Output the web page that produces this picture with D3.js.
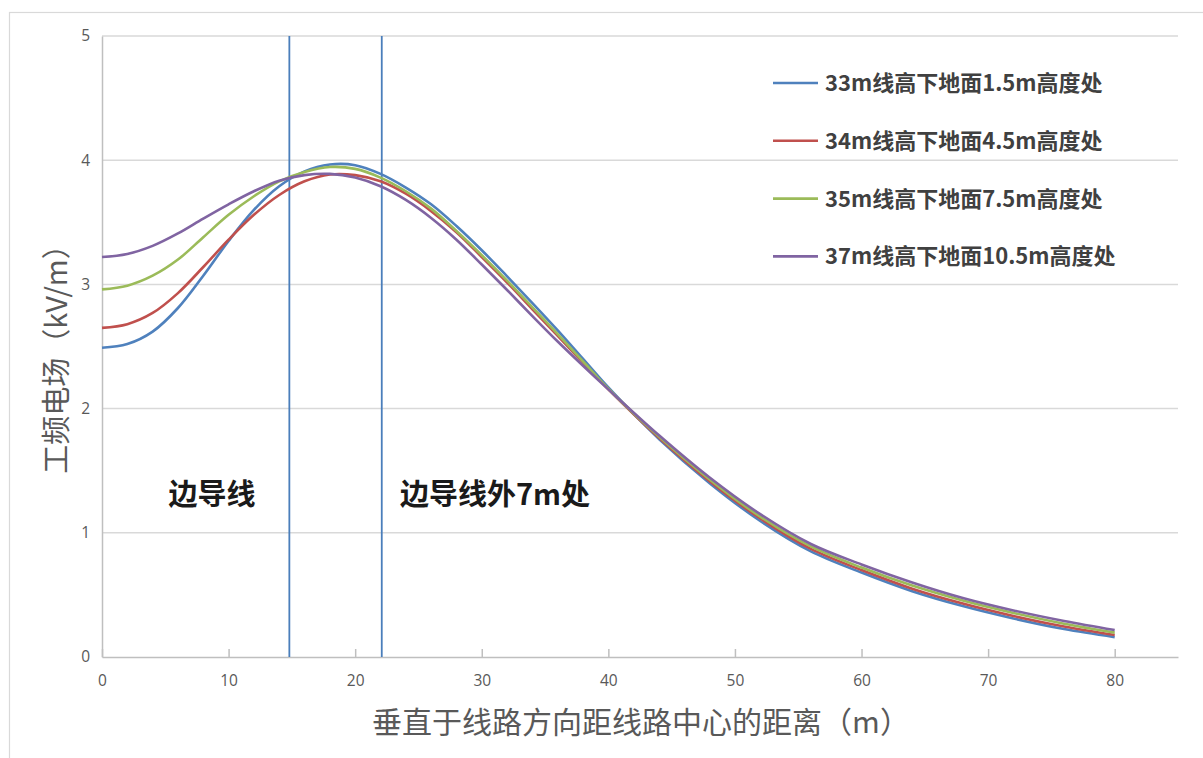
<!DOCTYPE html>
<html><head><meta charset="utf-8">
<script src="https://cdn.jsdelivr.net/npm/d3@7/dist/d3.min.js"></script>
<style>html,body{margin:0;padding:0;background:#fff;}svg{display:block;}</style>
</head><body>
<svg id="chart" width="1203" height="758"></svg>
<script>
const distances = [0,2,4,6,8,10,12,14,16,18,20,22,24,26,28,30,32,34,36,38,40,44,48,52,56,60,64,68,72,76,80];
const seriesNames = ["33m线高下地面1.5m高度处","34m线高下地面4.5m高度处","35m线高下地面7.5m高度处","37m线高下地面10.5m高度处"];
const blueValues   = [2.49,2.52,2.62,2.81,3.07,3.35,3.60,3.79,3.91,3.965,3.96,3.89,3.78,3.645,3.47,3.275,3.065,2.85,2.63,2.40,2.17,1.755,1.40,1.095,0.85,0.68,0.53,0.41,0.31,0.225,0.16];
const redValues    = [2.65,2.68,2.77,2.93,3.14,3.36,3.56,3.72,3.83,3.885,3.88,3.83,3.73,3.59,3.42,3.22,3.015,2.80,2.585,2.37,2.155,1.765,1.415,1.115,0.87,0.70,0.55,0.43,0.33,0.245,0.177];
const greenValues  = [2.96,2.99,3.07,3.20,3.38,3.56,3.71,3.83,3.905,3.945,3.93,3.86,3.75,3.61,3.43,3.235,3.03,2.815,2.60,2.38,2.16,1.775,1.43,1.13,0.89,0.72,0.575,0.455,0.355,0.268,0.196];
const purpleValues = [3.22,3.245,3.31,3.41,3.53,3.645,3.75,3.835,3.88,3.89,3.86,3.79,3.68,3.535,3.36,3.16,2.955,2.745,2.54,2.345,2.155,1.785,1.445,1.15,0.91,0.745,0.60,0.475,0.375,0.29,0.217];
const xTicks = [0,10,20,30,40,50,60,70,80];
const yTicks = [0,1,2,3,4,5];
const markerLines = [14.8, 22.1];
const markerLabels = ["边导线","边导线外7m处"];
const colors = ["#4f81bd","#c0504d","#9bbb59","#8064a2"];
const xTitle = "垂直于线路方向距线路中心的距离（m）";
const yTitle = "工频电场（kV/m）";

const svg = d3.select("#chart");
const L = 102, R = 1178, T = 36, B = 657;
const x = d3.scaleLinear().domain([0,85]).range([L,R]);
const y = d3.scaleLinear().domain([0,5]).range([B,T]);

// outer frame
svg.append("rect").attr("x",9.5).attr("y",12.5).attr("width",1210).attr("height",760)
  .attr("fill","none").attr("stroke","#d9d9d9").attr("stroke-width",1.2);

// gridlines
svg.append("g").selectAll("line").data(yTicks.filter(d=>d>0)).join("line")
  .attr("x1",L).attr("x2",R).attr("y1",d=>y(d)).attr("y2",d=>y(d))
  .attr("stroke","#d9d9d9").attr("stroke-width",1.5);

// y axis
const yAxis = svg.append("g").attr("transform",`translate(${L},0)`)
  .call(d3.axisLeft(y).tickValues(yTicks).tickSize(0).tickPadding(12).tickFormat(d3.format("d")));
yAxis.select(".domain").attr("stroke","#bfbfbf").attr("stroke-width",1.5);
yAxis.selectAll("text").attr("font-family","'Open Sans',sans-serif").attr("font-size",15.5).attr("fill","#595959");

// x axis
const xAxis = svg.append("g").attr("transform",`translate(0,${B})`)
  .call(d3.axisBottom(x).tickValues(xTicks).tickSize(-8).tickPadding(18).tickSizeOuter(0).tickFormat(d3.format("d")));
xAxis.select(".domain").attr("stroke","#bfbfbf").attr("stroke-width",1.5);
xAxis.selectAll(".tick line").attr("stroke","#bfbfbf").attr("stroke-width",1.5);
xAxis.selectAll("text").attr("font-family","'Open Sans',sans-serif").attr("font-size",15.5).attr("fill","#595959");

// marker vertical lines
svg.append("g").selectAll("line").data(markerLines).join("line")
  .attr("x1",d=>x(d)).attr("x2",d=>x(d)).attr("y1",T).attr("y2",B)
  .attr("stroke","#4a7ebb").attr("stroke-width",1.8);

// series
const allValues = [blueValues, redValues, greenValues, purpleValues];
const line = d3.line().x((d,i)=>x(distances[i])).y(d=>y(d)).curve(d3.curveCatmullRom.alpha(0.5));
svg.append("g").selectAll("path").data(allValues).join("path")
  .attr("d",d=>line(d)).attr("fill","none")
  .attr("stroke",(d,i)=>colors[i]).attr("stroke-width",2.6).attr("stroke-linejoin","round");

// marker labels
svg.append("text").attr("x",212).attr("y",505).attr("text-anchor","middle")
  .attr("font-family","'Noto Sans CJK SC',sans-serif").attr("font-size",29).attr("font-weight","bold").attr("fill","#1a1a1a")
  .text(markerLabels[0]);
svg.append("text").attr("x",495).attr("y",505).attr("text-anchor","middle")
  .attr("font-family","'Noto Sans CJK SC',sans-serif").attr("font-size",29).attr("font-weight","bold").attr("fill","#1a1a1a")
  .text(markerLabels[1]);

// legend
const lg = svg.append("g");
seriesNames.forEach((name,i)=>{
  const yy = 83 + i*57.8;
  lg.append("line").attr("x1",773).attr("x2",818).attr("y1",yy).attr("y2",yy)
    .attr("stroke",colors[i]).attr("stroke-width",2.6);
  lg.append("text").attr("x",825).attr("y",yy).attr("dy","0.36em")
    .attr("font-family","'Noto Sans CJK SC',sans-serif").attr("font-size",22).attr("font-weight","bold").attr("fill","#404040")
    .text(name);
});

// axis titles
svg.append("text").attr("x",641).attr("y",722).attr("dy","0.36em").attr("text-anchor","middle")
  .attr("font-family","'Noto Sans CJK SC',sans-serif").attr("font-size",30).attr("fill","#595959")
  .text(xTitle);
svg.append("text").attr("transform","translate(57,352) rotate(-90)").attr("dy","0.36em").attr("text-anchor","middle")
  .attr("font-family","'Noto Sans CJK SC',sans-serif").attr("font-size",29).attr("fill","#595959")
  .text(yTitle);
</script>
</body></html>
